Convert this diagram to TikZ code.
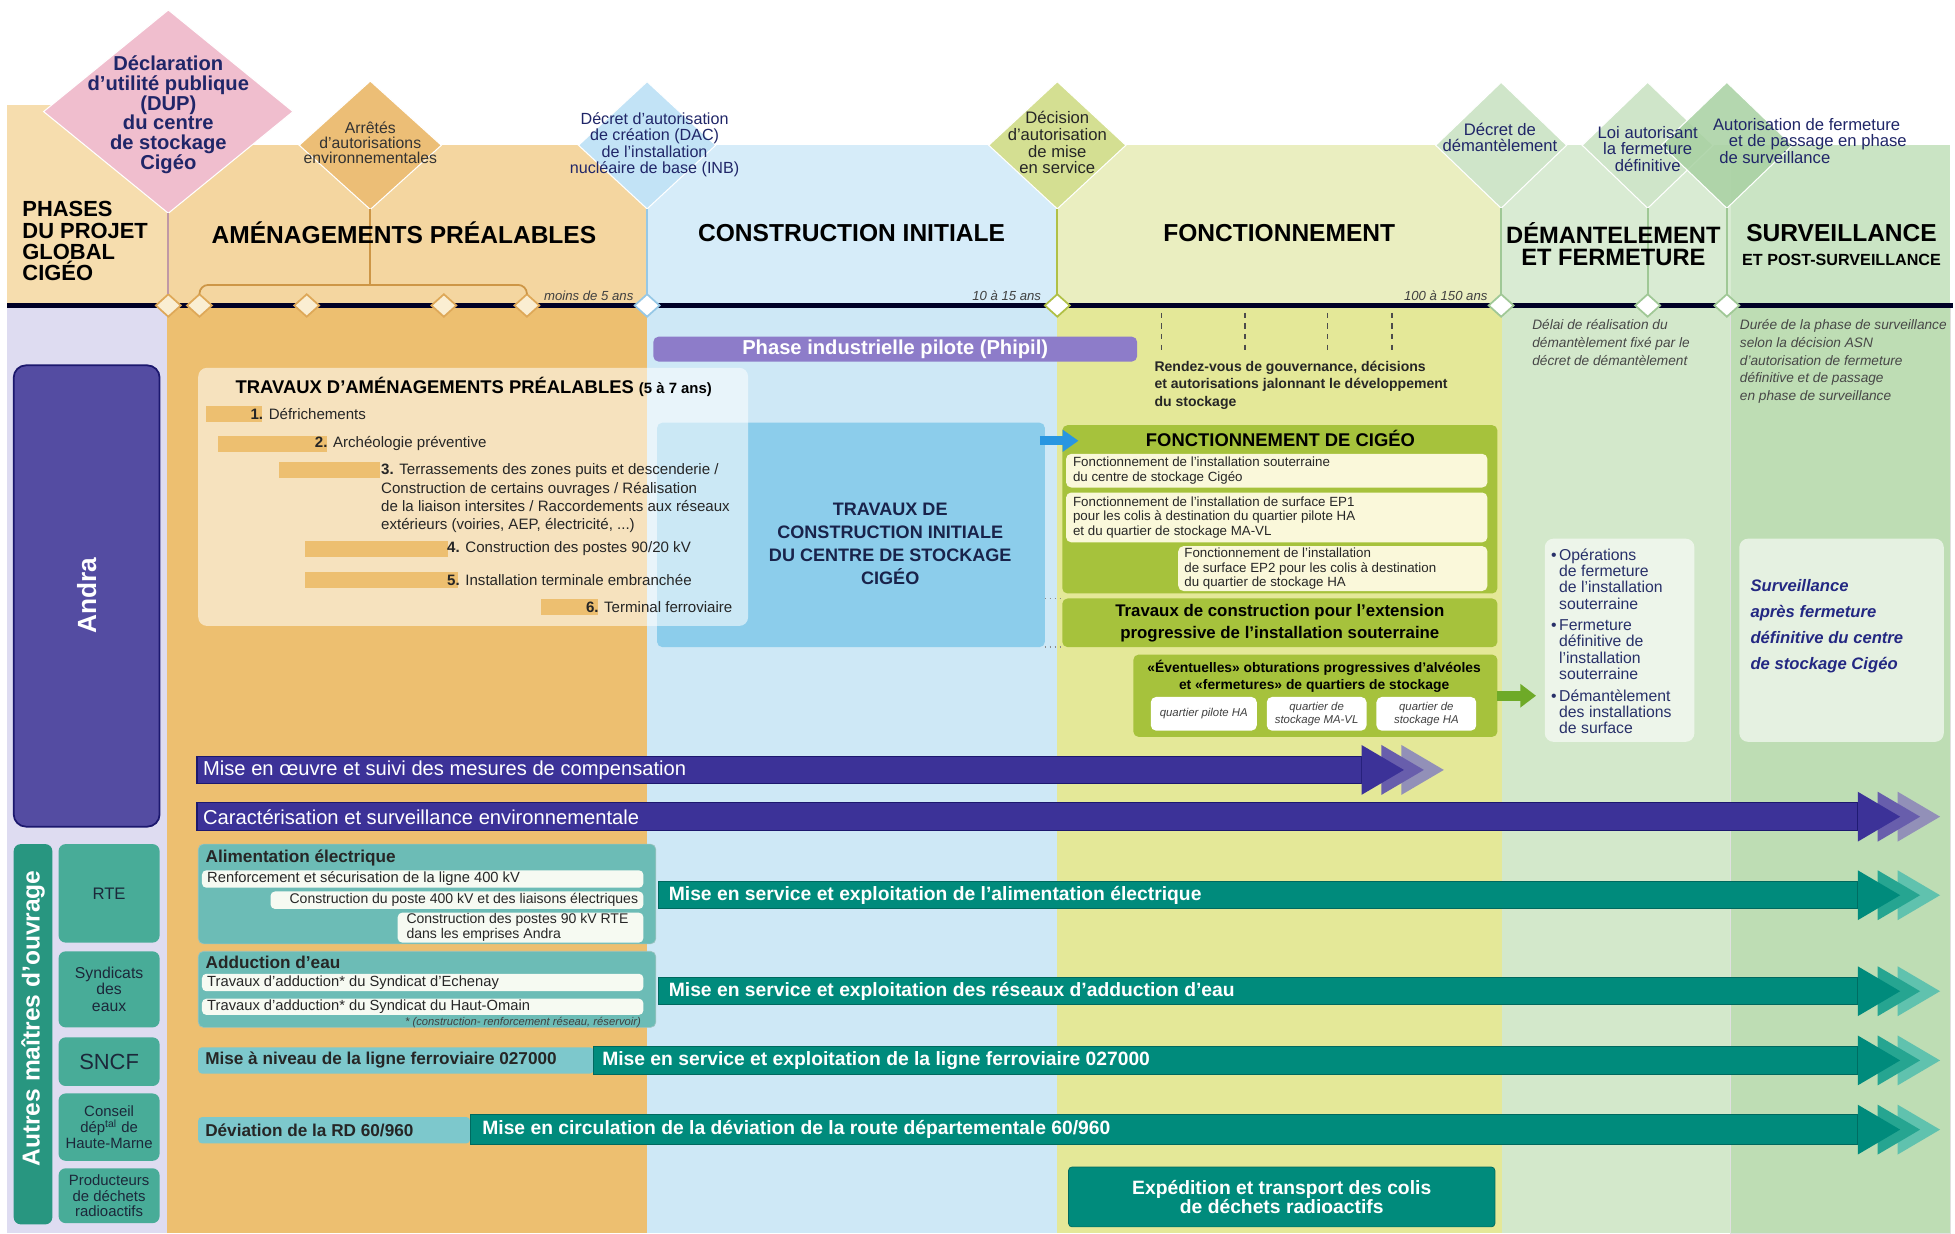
\documentclass[tikz,border=0pt]{standalone}
\usepackage{fontspec}
\setmainfont{Liberation Sans}
\usepackage{tikz}
\usetikzlibrary{shapes.geometric, arrows.meta, positioning, fit, calc}

\definecolor{hdrphase}{RGB}{246,221,174}
\definecolor{hdrorange}{RGB}{244,214,160}
\definecolor{hdrblue}{RGB}{214,236,249}
\definecolor{hdryellow}{RGB}{234,238,192}
\definecolor{hdrlgreen}{RGB}{217,235,211}
\definecolor{hdrgreen}{RGB}{202,228,196}
\definecolor{colactor}{RGB}{222,220,241}
\definecolor{colorange}{RGB}{237,191,112}
\definecolor{colblue}{RGB}{206,232,246}
\definecolor{colyellow}{RGB}{228,232,152}
\definecolor{collgreen}{RGB}{211,232,203}
\definecolor{colgreen}{RGB}{190,221,180}
\definecolor{navytxt}{RGB}{32,38,104}
\definecolor{cigeotxt}{RGB}{25,35,75}
\definecolor{mspink}{RGB}{240,190,206}
\definecolor{msorange}{RGB}{236,190,118}
\definecolor{msblue}{RGB}{194,227,246}
\definecolor{msyellow}{RGB}{212,223,146}
\definecolor{mslgreen}{RGB}{207,229,201}
\definecolor{msgreen}{RGB}{168,209,162}
\definecolor{markorange}{RGB}{222,168,88}
\definecolor{markfill}{RGB}{250,238,210}
\definecolor{markblue}{RGB}{150,200,230}
\definecolor{markyellow}{RGB}{176,192,70}
\definecolor{markgreen}{RGB}{160,200,150}
\definecolor{bracketbrown}{RGB}{205,150,70}
\definecolor{phipilviolet}{RGB}{141,124,201}
\definecolor{andraviolet}{RGB}{84,76,162}
\definecolor{andraedge}{RGB}{28,24,110}
\definecolor{andrablue}{RGB}{60,50,152}
\definecolor{andrafadeA}{RGB}{104,94,172}
\definecolor{andrafadeB}{RGB}{146,144,184}
\definecolor{tealdark}{RGB}{0,139,124}
\definecolor{tealedge}{RGB}{0,105,95}
\definecolor{tealfadeA}{RGB}{38,165,145}
\definecolor{tealfadeB}{RGB}{96,194,174}
\definecolor{teallight}{RGB}{108,188,182}
\definecolor{tealstrip}{RGB}{40,150,128}
\definecolor{tealbox}{RGB}{72,172,152}
\definecolor{tealpale}{RGB}{125,200,204}
\definecolor{stripwhite}{RGB}{246,250,242}
\definecolor{actortxt}{RGB}{28,40,58}
\definecolor{cigeoblue}{RGB}{140,205,235}
\definecolor{fonctgreen}{RGB}{166,194,60}
\definecolor{subcream}{RGB}{250,248,218}
\definecolor{arrowblue}{RGB}{40,150,225}
\definecolor{arrowgreen}{RGB}{110,170,40}
\definecolor{bullettxt}{RGB}{40,48,105}
\definecolor{survtxt}{RGB}{35,40,130}

\newcommand{\fsz}[2]{\fontsize{#1}{#2}\selectfont}
\newcommand{\triplehead}[4]{%
  \fill[#4] ($(#1.east)+(32,0)$) ++(0,-20) -- ++(34,20) -- ++(-34,20) -- cycle;
  \fill[#3] ($(#1.east)+(16,0)$) ++(0,-20) -- ++(34,20) -- ++(-34,20) -- cycle;
  \fill[#2] (#1.east) ++(0,-20) -- ++(34,20) -- ++(-34,20) -- cycle;
}

\tikzset{
  zone/.style={inner sep=0pt, outer sep=0pt},
  txt/.style={inner sep=0pt, outer sep=0pt},
  hdrtitle/.style={txt, align=center, font=\fsz{14}{14.5}\bfseries},
  msdiamond/.style={diamond, inner sep=0pt, outer sep=0pt, draw=white, line width=0.6pt},
  mstext/.style={txt, align=center, text=navytxt},
  tlmark/.style={diamond, inner sep=0pt, outer sep=0pt, minimum width=0.5cm, minimum height=0.45cm, line width=1pt},
  mslink/.style={line width=1pt},
  timeline/.style={line width=2.4pt, color=black!85!blue},
  durlabel/.style={txt, anchor=east, font=\fsz{7.5}{8}\itshape, text=black!75},
  notetext/.style={txt, anchor=north west, align=left, font=\fsz{7.8}{10.2}\itshape, text=black!72},
  itembar/.style={zone, fill=colorange},
  itemtext/.style={txt, anchor=west, align=left, font=\fsz{8.6}{10.45}, text=black!85},
  veilbox/.style={zone, fill=white, fill opacity=0.55, rounded corners=5pt},
  greenbox/.style={zone, fill=fonctgreen, rounded corners=3pt},
  creamstrip/.style={zone, fill=subcream, rounded corners=3pt},
  creamtext/.style={txt, anchor=west, align=left, font=\fsz{7.6}{8.2}, text=black!85},
  quartbox/.style={zone, fill=white, rounded corners=3pt},
  quarttext/.style={txt, align=center, font=\fsz{6.5}{7.5}\itshape, text=black!75},
  andraband/.style={zone, fill=andrablue, draw=andraedge, line width=0.6pt},
  tealband/.style={zone, fill=tealdark, draw=tealedge, line width=0.6pt},
  bandlabel/.style={txt, anchor=west, text=white},
  tealpanel/.style={zone, fill=teallight, draw=tealedge!40, rounded corners=3pt},
  whitestrip/.style={zone, fill=stripwhite, rounded corners=2.5pt},
  striptext/.style={txt, align=left, font=\fsz{8.4}{9}, text=black!85},
  paneltitle/.style={txt, anchor=west, font=\fsz{9.8}{10}\bfseries, text=black!85},
  actorbox/.style={zone, fill=tealbox, rounded corners=4pt},
  actortext/.style={txt, align=center, text=actortxt},
  bluearr/.style={-{Triangle[length=9pt,width=12pt]}, line width=5pt, color=arrowblue},
  greenarr/.style={-{Triangle[length=9pt,width=13pt]}, line width=5.5pt, color=arrowgreen, shorten >=5pt},
  linkdots/.style={dotted, line width=0.8pt, black!45},
  govdash/.style={line width=0.7pt, black!70, dash pattern=on 3pt off 3pt},
}

\begin{document}
\begin{tikzpicture}[x={(0.025cm,0)}, y={(0,-0.025cm)}]
  \useasboundingbox (0,0) rectangle (1568,989);
  \fill[white] (0,0) rectangle (1568,989);

  % phase columns under the time line
  \node[zone, fill=colactor, fit={(6,245) (134,989)}] (actorcol) {};
  \node[zone, fill=colorange, fit={(134,245) (519,989)}] (amcol) {};
  \node[zone, fill=colblue, fit={(519,245) (848,989)}] (cicol) {};
  \node[zone, fill=colyellow, fit={(848,245) (1205,989)}] (focol) {};
  \node[zone, fill=collgreen, fit={(1205,245) (1388,989)}] (decol) {};
  \node[zone, fill=colgreen, draw=black!12, fit={(1388,245) (1564,989)}] (sucol) {};

  % header bands
  \node[zone, fill=hdrphase, fit={(6,84) (134,245)}] (phasehdr) {};
  \node[zone, fill=hdrorange, fit={(134,116) (519,245)}] (amhdr) {};
  \node[zone, fill=hdrblue, fit={(519,116) (848,245)}] (cihdr) {};
  \node[zone, fill=hdryellow, fit={(848,116) (1205,245)}] (fohdr) {};
  \node[zone, fill=hdrlgreen, fit={(1205,116) (1388,245)}] (dehdr) {};
  \node[zone, fill=hdrgreen, fit={(1388,116) (1564,245)}] (suhdr) {};

  % milestones
  \node[msdiamond, fill=mspink, minimum width=5cm, minimum height=4.075cm] (dupms) at (135,89.5) {};
  \node[msdiamond, fill=msorange, minimum width=2.85cm, minimum height=2.575cm] (arrms) at (297,116.5) {};
  \node[msdiamond, fill=msblue, minimum width=2.75cm, minimum height=2.55cm] (dacms) at (519,116.5) {};
  \node[msdiamond, fill=msyellow, minimum width=2.75cm, minimum height=2.55cm] (misems) at (848,116.5) {};
  \node[msdiamond, fill=mslgreen, minimum width=2.625cm, minimum height=2.525cm] (demms) at (1204,116.5) {};
  \node[msdiamond, fill=mslgreen, minimum width=2.625cm, minimum height=2.525cm] (loims) at (1321.5,116.5) {};
  \node[msdiamond, fill=msgreen, fill opacity=0.85, minimum width=2.625cm, minimum height=2.525cm] (survms) at (1385,116.5) {};

  \coordinate (tlstart) at (6,245);
  \coordinate (tlend) at (1566,245);
  \draw[timeline] (tlstart) -- (tlend);
  \foreach \nm/\px/\mc/\fc in {tA/135/markorange/markfill, tB/160/markorange/markfill, tC/246/markorange/markfill,
      tD/356/markorange/markfill, tE/422.6/markorange/markfill, tF/519/markblue/white, tG/848/markyellow/white,
      tH/1204/markgreen/white, tI/1321.5/markgreen/white, tJ/1385/markgreen/white}
    \node[tlmark, draw=\mc, fill=\fc] (\nm) at (\px,245) {};

  \draw[mslink, mspink!80!black] (dupms.south) -- (tA.north);
  \coordinate (brjoin) at (297,228.5);
  \draw[mslink, bracketbrown] (arrms.south) -- (brjoin);
  \draw[mslink, bracketbrown, rounded corners=5pt] (tB.north) |- (brjoin) -| (tE.north);
  \draw[mslink, markblue] (dacms.south) -- (tF.north);
  \draw[mslink, markyellow] (misems.south) -- (tG.north);
  \draw[mslink, markgreen] (demms.south) -- (tH.north);
  \draw[mslink, markgreen] (loims.south) -- (tI.north);
  \draw[mslink, markgreen] (survms.south) -- (tJ.north);

  \node[mstext, font=\fsz{11.5}{11.25}\bfseries] (duptxt) at (135,92) {Déclaration\\d'utilité publique\\(DUP)\\du centre\\de stockage\\Cigéo};
  \node[mstext, text=black!80, font=\fsz{9}{8.8}] (arrtxt) at (297,114.5) {Arrêtés\\d'autorisations\\environnementales};
  \node[mstext, font=\fsz{9.2}{9.25}] (dactxt) at (525,116) {Décret d'autorisation\\de création (DAC)\\de l'installation\\nucléaire de base (INB)};
  \node[mstext, text=black!85, font=\fsz{9.5}{9.5}] (misetxt) at (848,114.5) {Décision\\d'autorisation\\de mise\\en service};
  \node[mstext, font=\fsz{9.5}{9.3}] (demmstxt) at (1203,110) {Décret de\\démantèlement};
  \node[mstext, font=\fsz{9.5}{9.3}] (loitxt) at (1321.5,119.5) {Loi autorisant\\la fermeture\\définitive};
  \node[mstext, anchor=west, align=left, font=\fsz{9.5}{9.6}] (survmstxt) at (1374,113) {Autorisation de fermeture\\\hspace*{9pt}et de passage en phase\\\hspace*{3.5pt}de surveillance};

  \node[txt, anchor=west, align=left, font=\fsz{12.5}{12.1}\bfseries] (phasetitle) at (18,193.5) {PHASES\\DU PROJET\\GLOBAL\\CIGÉO};
  \node[hdrtitle] (amtitle) at (324,187) {AMÉNAGEMENTS PRÉALABLES};
  \node[hdrtitle] (cititle) at (683,187) {CONSTRUCTION INITIALE};
  \node[hdrtitle] (fotitle) at (1026,187) {FONCTIONNEMENT};
  \node[hdrtitle, font=\fsz{13.5}{12.8}\bfseries] (detitle) at (1294,196) {DÉMANTELEMENT\\ET FERMETURE};
  \node[hdrtitle] (sutitle) at (1477,187) {SURVEILLANCE};
  \node[txt, font=\fsz{9.2}{10}\bfseries, below=7pt of sutitle] (susub) {ET POST-SURVEILLANCE};

  \node[durlabel] (dur1) at (508,237) {moins de 5 ans};
  \node[durlabel] (dur2) at (835,237) {10 à 15 ans};
  \node[durlabel] (dur3) at (1193,237) {100 à 150 ans};

  \node[notetext] (delai) at (1229,256) {Délai de réalisation du\\démantèlement fixé par le\\décret de démantèlement};
  \node[notetext] (duree) at (1395.5,256) {Durée de la phase de surveillance\\selon la décision ASN\\d'autorisation de fermeture\\définitive et de passage\\en phase de surveillance};

  \foreach \px in {931.5,998.5,1065,1116.5}
    \draw[govdash] (\px,251) -- (\px,283);
  \node[txt, anchor=north west, align=left, font=\fsz{8}{10}\bfseries, text=black!85] (govtxt) at (926,289.5) {Rendez-vous de gouvernance, décisions\\et autorisations jalonnant le développement\\du stockage};

  \node[zone, fill=phipilviolet, rounded corners=3pt, fit={(524,270) (912,290)}] (phipil) {};
  \node[txt, font=\fsz{11.5}{12}\bfseries, text=white] (phipiltxt) at (phipil.center) {Phase industrielle pilote (Phipil)};

  % maitres d'ouvrage
  \node[zone, fill=andraviolet, draw=andraedge, line width=1pt, rounded corners=7pt, fit={(11,293) (128,663)}] (andra) {};
  \node[txt, rotate=90, font=\fsz{15}{15}\bfseries, text=white] (andratxt) at (andra.center) {Andra};
  \node[zone, fill=tealstrip, rounded corners=4pt, fit={(11,677) (42,982)}] (autres) {};
  \node[txt, rotate=90, font=\fsz{14}{14}\bfseries, text=white] (autrestxt) at ([yshift=9pt]autres.center) {Autres maîtres d'ouvrage};
  \node[actorbox, fit={(47,677) (128,756)}] (rte) {};
  \node[actortext, font=\fsz{9.5}{10}] (rtetxt) at (rte.center) {RTE};
  \node[actorbox, fit={(47,763) (128,824)}] (syndic) {};
  \node[actortext, font=\fsz{9}{9.2}] (syndictxt) at (syndic.center) {Syndicats\\des\\eaux};
  \node[actorbox, fit={(47,832) (128,871)}] (sncf) {};
  \node[actortext, font=\fsz{12.5}{13}] (sncftxt) at (sncf.center) {SNCF};
  \node[actorbox, fit={(47,877) (128,931)}] (conseil) {};
  \node[actortext, font=\fsz{8.5}{9.2}] (conseiltxt) at (conseil.center) {Conseil\\dép\textsuperscript{tal} de\\Haute-Marne};
  \node[actorbox, fit={(47,937) (128,981)}] (prod) {};
  \node[actortext, font=\fsz{8.5}{8.9}] (prodtxt) at (prod.center) {Producteurs\\de déchets\\radioactifs};

  % amenagements prealables
  \node[zone, fill=cigeoblue, rounded corners=3pt, fit={(527,339) (838,519)}] (cigeo) {};
  \node[veilbox, fit={(159,295) (600,502)}] (travbox) {};
  \node[txt, anchor=west, font=\fsz{10.5}{11}\bfseries] (travtitle) at (189,310) {TRAVAUX D'AMÉNAGEMENTS PRÉALABLES {\fsz{8.5}{9}(5 à 7 ans)}};
  \foreach \nm/\xa/\xb/\py in {ib1/165/210/332, ib2/175/262/356, ib3/224/305/377, ib4/245/359/440, ib5/245/367/465, ib6/434/480/487}
    \node[itembar, fit={(\xa,\py-6.5) (\xb,\py+6.5)}] (\nm) {};
  \node[itemtext] (it1) at (201,332) {\textbf{1.} Défrichements};
  \node[itemtext] (it2) at (252.6,356) {\textbf{2.} Archéologie préventive};
  \node[itemtext, anchor=north west] (it3) at (305.7,372) {\textbf{3.} Terrassements des zones puits et descenderie /\\Construction de certains ouvrages / Réalisation\\de la liaison intersites / Raccordements aux réseaux\\extérieurs (voiries, AEP, électricité, ...)};
  \node[itemtext] (it4) at (358.7,440) {\textbf{4.} Construction des postes 90/20 kV};
  \node[itemtext] (it5) at (358.7,465) {\textbf{5.} Installation terminale embranchée};
  \node[itemtext] (it6) at (470,487) {\textbf{6.} Terminal ferroviaire};

  \node[txt, align=center, font=\fsz{10.3}{13.2}\bfseries, text=cigeotxt] (cigeotxt) at (714,436) {TRAVAUX DE\\CONSTRUCTION INITIALE\\DU CENTRE DE STOCKAGE\\CIGÉO};

  % fonctionnement
  \node[greenbox, fit={(852,341) (1201,476)}] (fonct) {};
  \node[txt, font=\fsz{10.5}{11}\bfseries] (fonctitle) at (1027,352) {FONCTIONNEMENT DE CIGÉO};
  \node[creamstrip, fit={(855,364) (1193,391)}] (fo1) {};
  \node[creamtext] (fo1txt) at ([xshift=4pt]fo1.west) {Fonctionnement de l'installation souterraine\\du centre de stockage Cigéo};
  \node[creamstrip, fit={(855,395) (1193,435)}] (fo2) {};
  \node[creamtext] (fo2txt) at ([xshift=4pt]fo2.west) {Fonctionnement de l'installation de surface EP1\\pour les colis à destination du quartier pilote HA\\et du quartier de stockage MA-VL};
  \node[creamstrip, fit={(945,438) (1193,474)}] (fo3) {};
  \node[creamtext] (fo3txt) at ([xshift=3.5pt]fo3.west) {Fonctionnement de l'installation\\de surface EP2 pour les colis à destination\\du quartier de stockage HA};
  \node[greenbox, fit={(852,480) (1201,519)}] (travext) {};
  \node[txt, align=center, font=\fsz{9.6}{12.6}\bfseries] (travexttxt) at (travext.center) {Travaux de construction pour l'extension\\progressive de l'installation souterraine};

  \node[greenbox, fit={(909,525) (1201,591)}] (eventuel) {};
  \node[txt, align=center, font=\fsz{7.9}{9.3}\bfseries] (eventtxt) at (1054,542.5) {«Éventuelles» obturations progressives d'alvéoles\\et «fermetures» de quartiers de stockage};
  \node[quartbox, fit={(923,559) (1008,586)}] (qpilote) {};
  \node[quarttext] (qpilotetxt) at (qpilote.center) {quartier pilote HA};
  \node[quartbox, fit={(1016,559) (1096,586)}] (qmavl) {};
  \node[quarttext] (qmavltxt) at (qmavl.center) {quartier de\\stockage MA-VL};
  \node[quartbox, fit={(1104,559) (1184,586)}] (qha) {};
  \node[quarttext] (qhatxt) at (qha.center) {quartier de\\stockage HA};

  \coordinate (cigeoout) at (834,353.5);
  \draw[bluearr] (cigeoout) -- ($(fonct.west |- cigeoout)+(13,0)$);
  \draw[linkdots] (cigeo.east |- travext.north west) -- (travext.north west);
  \draw[linkdots] (cigeo.east |- travext.south west) -- (travext.south west);

  % demantelement et surveillance
  \node[veilbox, fill opacity=0.6, fit={(1239,432) (1359,595)}] (dembox) {};
  \node[txt, anchor=north west, font=\fsz{9}{9.3}, text=bullettxt] (closuretxt) at (1244,440) {%
    \begin{tabular}{@{}l@{\,}l@{}}
      \textbullet & Opérations\\ & de fermeture\\ & de l'installation\\ & souterraine\\[2.8pt]
      \textbullet & Fermeture\\ & définitive de\\ & l'installation\\ & souterraine\\[2.8pt]
      \textbullet & Démantèlement\\ & des installations\\ & de surface
    \end{tabular}};
  \draw[greenarr] (eventuel.east) -- (dembox.west |- eventuel.east);
  \node[veilbox, fill opacity=0.6, fit={(1395,432) (1559,595)}] (survbox) {};
  \node[txt, anchor=north west, align=left, font=\fsz{9.5}{14.7}\bfseries\itshape, text=survtxt] (survboxtxt) at (1404,465) {Surveillance\\après fermeture\\définitive du centre\\de stockage Cigéo};

  % bandes Andra
  \node[andraband, fit={(158,606.5) (1092,628.5)}] (compens) {};
  \node[bandlabel, font=\fsz{11.5}{12}] (compenstxt) at ([xshift=3.5pt]compens.west) {Mise en œuvre et suivi des mesures de compensation};
  \triplehead{compens}{andrablue}{andrafadeA}{andrafadeB}
  \node[andraband, fit={(158,644) (1490,666)}] (caract) {};
  \node[bandlabel, font=\fsz{11.5}{12}] (caracttxt) at ([xshift=3.5pt]caract.west) {Caractérisation et surveillance environnementale};
  \triplehead{caract}{andrablue}{andrafadeA}{andrafadeB}

  % autres maitres d'ouvrage
  \node[tealpanel, fit={(159,677) (526,757)}] (alim) {};
  \node[paneltitle] (alimtitle) at (165,688) {Alimentation électrique};
  \node[whitestrip, fit={(162,698) (516,712)}] (alim1) {};
  \node[striptext, anchor=west] (alim1txt) at ([xshift=3pt]alim1.west) {Renforcement et sécurisation de la ligne 400 kV};
  \node[whitestrip, fit={(217,715) (516,729)}] (alim2) {};
  \node[striptext, anchor=east, font=\fsz{8}{9}] (alim2txt) at ([xshift=-3pt]alim2.east) {Construction du poste 400 kV et des liaisons électriques};
  \node[whitestrip, fit={(319,732) (516,756)}] (alim3) {};
  \node[striptext, anchor=west, font=\fsz{8}{8.7}] (alim3txt) at ([xshift=5pt]alim3.west) {Construction des postes 90 kV RTE\\dans les emprises Andra};
  \node[tealband, fit={(528,707) (1490,729)}] (alimarr) {};
  \node[bandlabel, font=\fsz{11}{12}\bfseries] (alimarrtxt) at ([xshift=6pt]alimarr.west) {Mise en service et exploitation de l'alimentation électrique};
  \triplehead{alimarr}{tealdark}{tealfadeA}{tealfadeB}

  \node[tealpanel, fit={(159,763) (526,824)}] (eau) {};
  \node[paneltitle] (eautitle) at (165,772) {Adduction d'eau};
  \node[whitestrip, fit={(162,781) (516,795)}] (eau1) {};
  \node[striptext, anchor=west] (eau1txt) at ([xshift=3pt]eau1.west) {Travaux d'adduction* du Syndicat d'Echenay};
  \node[whitestrip, fit={(162,801) (516,814)}] (eau2) {};
  \node[striptext, anchor=west] (eau2txt) at ([xshift=3pt]eau2.west) {Travaux d'adduction* du Syndicat du Haut-Omain};
  \node[txt, anchor=east, font=\fsz{6.4}{7}\itshape, text=black!75] (eaunote) at (514,820) {* (construction- renforcement réseau, réservoir)};
  \node[tealband, fit={(528,784) (1490,806)}] (eauarr) {};
  \node[bandlabel, font=\fsz{11}{12}\bfseries] (eauarrtxt) at ([xshift=6pt]eauarr.west) {Mise en service et exploitation des réseaux d'adduction d'eau};
  \triplehead{eauarr}{tealdark}{tealfadeA}{tealfadeB}

  \node[zone, fill=tealpale, rounded corners=2pt, fit={(159,840) (476,861)}] (ferro) {};
  \node[paneltitle] (ferrotxt) at ([xshift=4pt]ferro.west) {Mise à niveau de la ligne ferroviaire 027000};
  \node[tealband, fit={(476,839) (1490,862)}] (ferroarr) {};
  \node[bandlabel, font=\fsz{11}{12}\bfseries] (ferroarrtxt) at ([xshift=5pt]ferroarr.west) {Mise en service et exploitation de la ligne ferroviaire 027000};
  \triplehead{ferroarr}{tealdark}{tealfadeA}{tealfadeB}

  \node[zone, fill=tealpale, rounded corners=2pt, fit={(159,896) (377,917)}] (rd) {};
  \node[paneltitle] (rdtxt) at ([xshift=4pt]rd.west) {Déviation de la RD 60/960};
  \node[tealband, fit={(377,894) (1490,918)}] (rdarr) {};
  \node[bandlabel, font=\fsz{11}{12}\bfseries] (rdarrtxt) at ([xshift=7pt]rdarr.west) {Mise en circulation de la déviation de la route départementale 60/960};
  \triplehead{rdarr}{tealdark}{tealfadeA}{tealfadeB}

  \node[zone, fill=tealdark, draw=tealedge, rounded corners=2pt, fit={(857,936) (1199,984)}] (expedition) {};
  \node[txt, align=center, font=\fsz{11}{10.7}\bfseries, text=white] (expeditiontxt) at (expedition.center) {Expédition et transport des colis\\de déchets radioactifs};
\end{tikzpicture}
\end{document}
